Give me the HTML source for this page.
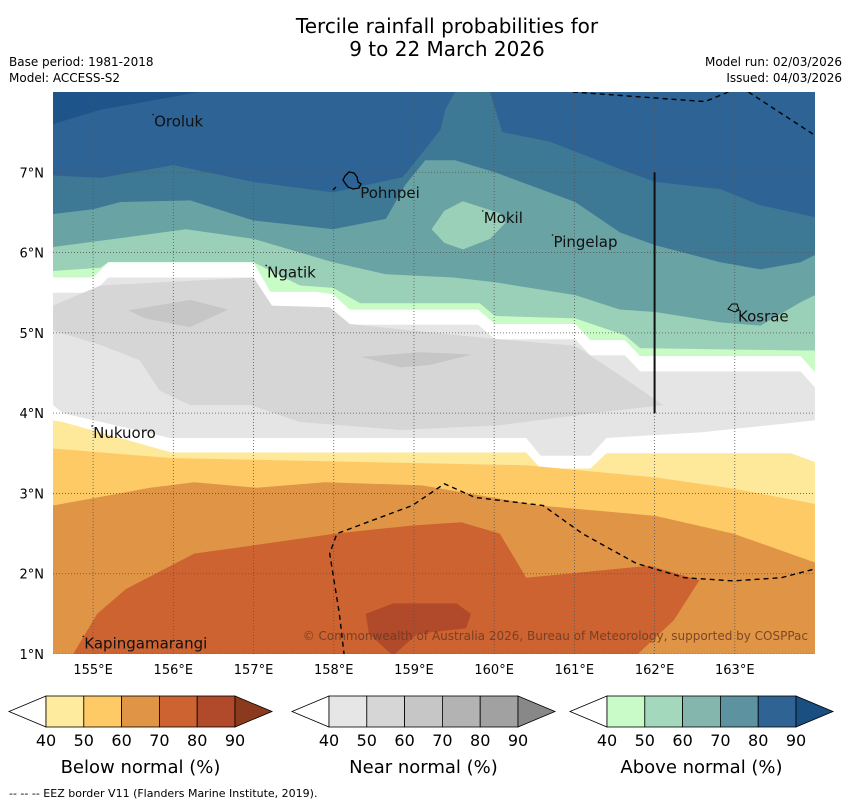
<!DOCTYPE html>
<html><head><meta charset="utf-8">
<style>
body{margin:0;background:#fff;width:850px;height:804px;overflow:hidden;font-family:"DejaVu Sans","Liberation Sans",sans-serif;}
svg{position:absolute;left:0;top:0;}
</style></head>
<body>
<svg id="chart" width="850" height="804" xmlns="http://www.w3.org/2000/svg">
<text x="447" y="33" font-size="20" text-anchor="middle" fill="#000">Tercile rainfall probabilities for</text>
<text x="447" y="56" font-size="20" text-anchor="middle" fill="#000">9 to 22 March 2026</text>
<text x="9" y="66" font-size="12">Base period: 1981-2018</text>
<text x="9" y="82" font-size="12">Model: ACCESS-S2</text>
<text x="842" y="66" font-size="12" text-anchor="end">Model run: 02/03/2026</text>
<text x="842" y="82" font-size="12" text-anchor="end">Issued: 04/03/2026</text>
<g id="map"></g>
<g id="bars"></g>
<text x="9" y="797" font-size="11">--  --  -- EEZ border V11 (Flanders Marine Institute, 2019).</text>
</svg>
<script>
// axis extents
const lonMin=154.5, lonMax=164.0, latMin=1.0, latMax=8.0;
const lonTicks=[155,156,157,158,159,160,161,162,163];
const latTicks=[1,2,3,4,5,6,7];
// contour boundaries [lon,lat]
const bDark=[[154.5,7.60],[155.09,7.78],[156.33,8.0]];
const b70=[[154.5,6.96],[155.09,6.93],[156.0,7.09],[157.0,6.88],[157.99,6.75],[158.86,6.94],[159.11,7.25],[159.33,7.53],[159.39,7.78],[159.51,8.0],[159.95,8.0],[160.10,7.50],[160.70,7.38],[161.57,7.04],[162.01,6.88],[162.82,6.79],[163.32,6.59],[164.0,6.44]];
const b60=[[154.5,6.48],[155.0,6.54],[155.34,6.63],[156.21,6.65],[157.0,6.40],[157.99,6.29],[158.65,6.42],[158.89,6.84],[159.14,7.15],[159.51,7.15],[160.01,7.0],[161.01,6.63],[161.57,6.25],[162.01,6.09],[162.82,5.88],[163.32,5.79],[163.82,5.88],[164.0,5.97]];
const b50=[[154.5,6.07],[155.34,6.18],[156.16,6.29],[157.0,6.17],[157.99,5.88],[158.65,5.73],[159.49,5.69],[160.01,5.63],[161.01,5.47],[161.57,5.29],[162.01,5.26],[162.82,5.13],[163.32,5.09],[163.82,5.38],[164.0,5.47]];
const mokil=[[159.22,6.29],[159.38,6.52],[159.61,6.64],[160.07,6.49],[160.14,6.37],[159.95,6.17],[159.61,6.04],[159.38,6.12]];
const b40=[[154.5,5.77],[155.09,5.81],[155.19,5.88],[157.0,5.88],[157.58,5.59],[157.99,5.56],[158.33,5.37],[159.82,5.37],[160.01,5.21],[161.01,5.18],[161.63,4.97],[161.82,4.81],[163.82,4.78],[164.0,4.78]];
const bWhite=[[154.5,5.69],[155.0,5.69],[155.19,5.88],[157.0,5.88],[157.21,5.51],[157.78,5.51],[157.99,5.48],[158.20,5.29],[159.80,5.29],[160.01,5.11],[161.01,5.11],[161.20,4.91],[161.63,4.91],[161.82,4.71],[163.82,4.71],[164.0,4.51]];
const bGray=[[154.5,5.50],[155.0,5.50],[155.19,5.69],[157.0,5.69],[157.21,5.32],[157.78,5.32],[157.99,5.29],[158.20,5.10],[159.80,5.10],[160.01,4.92],[161.01,4.92],[161.20,4.72],[161.63,4.72],[161.82,4.52],[163.82,4.52],[164.0,4.32]];
const gray50=[[154.5,5.34],[155.09,5.59],[157.0,5.69],[157.23,5.34],[157.95,5.32],[158.20,5.11],[159.95,4.93],[161.01,4.84],[161.57,4.47],[162.11,4.10],[161.32,4.01],[160.07,3.85],[158.83,3.79],[157.58,3.89],[156.96,4.10],[156.21,4.10],[155.83,4.28],[155.58,4.66],[155.09,4.85],[154.5,5.03]];
const gray60a=[[155.44,5.28],[156.21,5.41],[156.68,5.29],[156.21,5.07],[155.65,5.18]];
const gray60b=[[158.35,4.70],[159.08,4.76],[159.72,4.73],[159.20,4.60],[158.83,4.57]];
const bWhite2=[[154.5,4.10],[154.62,4.0],[155.96,3.69],[160.40,3.69],[160.58,3.47],[161.20,3.47],[161.40,3.69],[162.57,3.76],[164.0,3.91]];
const bY40=[[154.5,3.91],[154.62,3.89],[155.98,3.51],[160.40,3.51],[160.58,3.31],[161.20,3.31],[161.40,3.50],[163.70,3.50],[164.0,3.39]];
const bY50=[[154.5,3.56],[155.98,3.44],[160.40,3.35],[162.01,3.20],[162.98,3.06],[164.0,2.87]];
const bO60=[[154.5,2.85],[155.71,3.07],[156.26,3.14],[157.04,3.07],[157.89,3.14],[159.10,3.10],[160.56,2.85],[162.01,2.72],[162.98,2.50],[164.0,2.14]];
const red70=[[154.74,0.98],[155.05,1.50],[155.41,1.81],[156.26,2.25],[156.98,2.35],[158.02,2.50],[158.98,2.60],[159.59,2.64],[160.07,2.50],[160.40,1.95],[161.94,2.10],[162.56,1.92],[162.24,1.42],[161.77,0.98]];
const red80=[[158.40,1.50],[158.74,1.63],[159.53,1.63],[159.71,1.50],[159.65,1.32],[159.04,1.25],[158.74,0.98],[158.44,1.25]];
const eezSouth=[[158.13,0.98],[158.07,1.50],[157.95,2.25],[158.04,2.50],[158.98,2.85],[159.38,3.12],[159.76,2.95],[160.61,2.85],[161.10,2.50],[161.77,2.13],[162.37,1.95],[162.98,1.91],[163.58,1.95],[164.0,2.06]];
const eezNorth1=[[160.98,8.0],[162.63,7.88],[162.92,8.0]];
const eezNorth2=[[163.17,8.0],[164.0,7.46]];
const places=["Oroluk","Pohnpei","Mokil","Pingelap","Ngatik","Kosrae","Nukuoro","Kapingamarangi"];
const placeLon=[155.76,158.33,159.87,160.74,157.17,163.04,155.0,154.89];
const placeLat=[7.57,6.68,6.37,6.07,5.69,5.14,3.69,1.07];
// colorbars
const barTitles=["Below normal (%)","Near normal (%)","Above normal (%)"];
const barLevels=[40,50,60,70,80,90];
const barColors=[["#feeb9e","#fdca66","#e09445","#cc6331","#b04a2a","#8b3a1e"],["#e6e6e6","#d6d6d6","#c6c6c6","#b3b3b3","#a1a1a1","#888888"],["#c9fbc9","#a3d8bc","#84b6ae","#5d93a0","#2f6393","#1a4f82"]];

const X0=53,X1=815,Y0=92,Y1=654;
const xs=l=>X0+(l-lonMin)/(lonMax-lonMin)*(X1-X0);
const ys=l=>Y0+(latMax-l)/(latMax-latMin)*(Y1-Y0);
const NS="http://www.w3.org/2000/svg";
const map=document.getElementById('map');
function mk(tag,attrs,parent){const e=document.createElementNS(NS,tag);for(const k in attrs)e.setAttribute(k,attrs[k]);(parent||map).appendChild(e);return e;}
const pts=a=>a.map(p=>xs(p[0]).toFixed(1)+','+ys(p[1]).toFixed(1)).join(' ');
function below(b){return b.concat([[lonMax,latMin],[lonMin,latMin]]);}
const defs=mk('defs',{});
const cp=mk('clipPath',{id:'clip'},defs);
mk('rect',{x:X0,y:Y0,width:X1-X0,height:Y1-Y0},cp);
const g=mk('g',{'clip-path':'url(#clip)'});
function poly(a,fill,name){const p=mk('polygon',{points:pts(a),fill:fill},g);

return p;}
poly([[lonMin,latMax],[lonMax,latMax],[lonMax,latMin],[lonMin,latMin]],'#2e6395','region-above-80');
poly(bDark.concat([[lonMin,latMax]]),'#1d5489','region-above-90');
poly(below(b70),'#3d7894','region-above-70');
poly(below(b60),'#6aa3a4','region-above-60');
poly(below(b50),'#9bd0b8','region-above-50');
poly(mokil,'#9bd0b8','region-mokil-above-50');
poly(below(b40),'#c8fbc6','region-above-40');
poly(below(bWhite),'#ffffff','region-no-signal-north');
poly(below(bGray),'#e5e5e5','region-near-40');
poly(gray50,'#d6d6d6','region-near-50');
poly(gray60a,'#c6c6c6','region-near-60-west');
poly(gray60b,'#c6c6c6','region-near-60-east');
poly(below(bWhite2),'#ffffff','region-no-signal-south');
poly(below(bY40),'#fee89a','region-below-40');
poly(below(bY50),'#fdca66','region-below-50');
poly(below(bO60),'#e09445','region-below-60');
poly(red70,'#cc6331','region-below-70');
poly(red80,'#b04a2a','region-below-80');
// grid
lonTicks.forEach(t=>{const l=mk('line',{x1:xs(t),x2:xs(t),y1:Y0,y2:Y1,stroke:'#555','stroke-width':0.8,'stroke-dasharray':'1,2'},g);


const tx=mk('text',{x:xs(t),y:674,'font-size':13,'text-anchor':'middle'});tx.textContent=t+'°E';

});
latTicks.forEach(t=>{const l=mk('line',{x1:X0,x2:X1,y1:ys(t),y2:ys(t),stroke:'#555','stroke-width':0.8,'stroke-dasharray':'1,2'},g);


const tx=mk('text',{x:44,y:ys(t)+5,'font-size':13,'text-anchor':'end'});tx.textContent=t+'°N';

});
// EEZ
[eezSouth,eezNorth1,eezNorth2].forEach(a=>{const l=mk('polyline',{points:pts(a),fill:'none',stroke:'#000','stroke-width':1.4,'stroke-dasharray':'5,4'},g);

});
const vl=mk('line',{x1:xs(162),x2:xs(162),y1:ys(7),y2:ys(4),stroke:'#111','stroke-width':2},g);


// islands
const ip=mk('path',{d:'M345,176 l4,-4 l5,1 l3,4 l1,5 l3,2 l-2,4 l-6,1 l-5,-2 l-3,-4 l-2,-3 z M336,187 l-3,3',fill:'none',stroke:'#000','stroke-width':1.3},g);


const ik=mk('path',{d:'M728,309 l4,-5 l5,0 l2,6 l-4,2 z',fill:'none',stroke:'#000','stroke-width':1},g);


places.forEach((n,i)=>{const t=mk('text',{x:xs(placeLon[i]),y:ys(placeLat[i]),'font-size':15,fill:'#111'},g);t.textContent=n;


const d=mk('circle',{cx:xs(placeLon[i])-1,cy:ys(placeLat[i])-12,r:0.8,fill:'#111'},g);

});
const cr=mk('text',{x:808,y:640,'font-size':12,'text-anchor':'end',fill:'#6b3a22','fill-opacity':0.85},g);
cr.textContent='© Commonwealth of Australia 2026, Bureau of Meteorology, supported by COSPPac';


// colorbars
const bars=document.getElementById('bars');
const barX=[46,329,607], cw=37.8, by=696, bh=31;
barTitles.forEach((title,b)=>{
 const x0=barX[b];
 const lt=mk('polygon',{points:`${x0},${by} ${x0-37},${by+bh/2} ${x0},${by+bh}`,fill:'#fff',stroke:'#000','stroke-width':0.8},bars);
 
 
 for(let i=0;i<5;i++){const r=mk('rect',{x:x0+i*cw,y:by,width:cw,height:bh,fill:barColors[b][i],stroke:'#000','stroke-width':0.8},bars);
 
 }
 const xe=x0+5*cw;
 const rt=mk('polygon',{points:`${xe},${by} ${xe+37},${by+bh/2} ${xe},${by+bh}`,fill:barColors[b][5],stroke:'#000','stroke-width':0.8},bars);
 
 
 barLevels.forEach((v,i)=>{const t=mk('text',{x:x0+i*cw,y:746,'font-size':16,'text-anchor':'middle'},bars);t.textContent=v;
 
 });
 const tt=mk('text',{x:x0+2.5*cw,y:773,'font-size':18,'text-anchor':'middle'},bars);tt.textContent=title;
 
 
});
</script>
</body></html>
